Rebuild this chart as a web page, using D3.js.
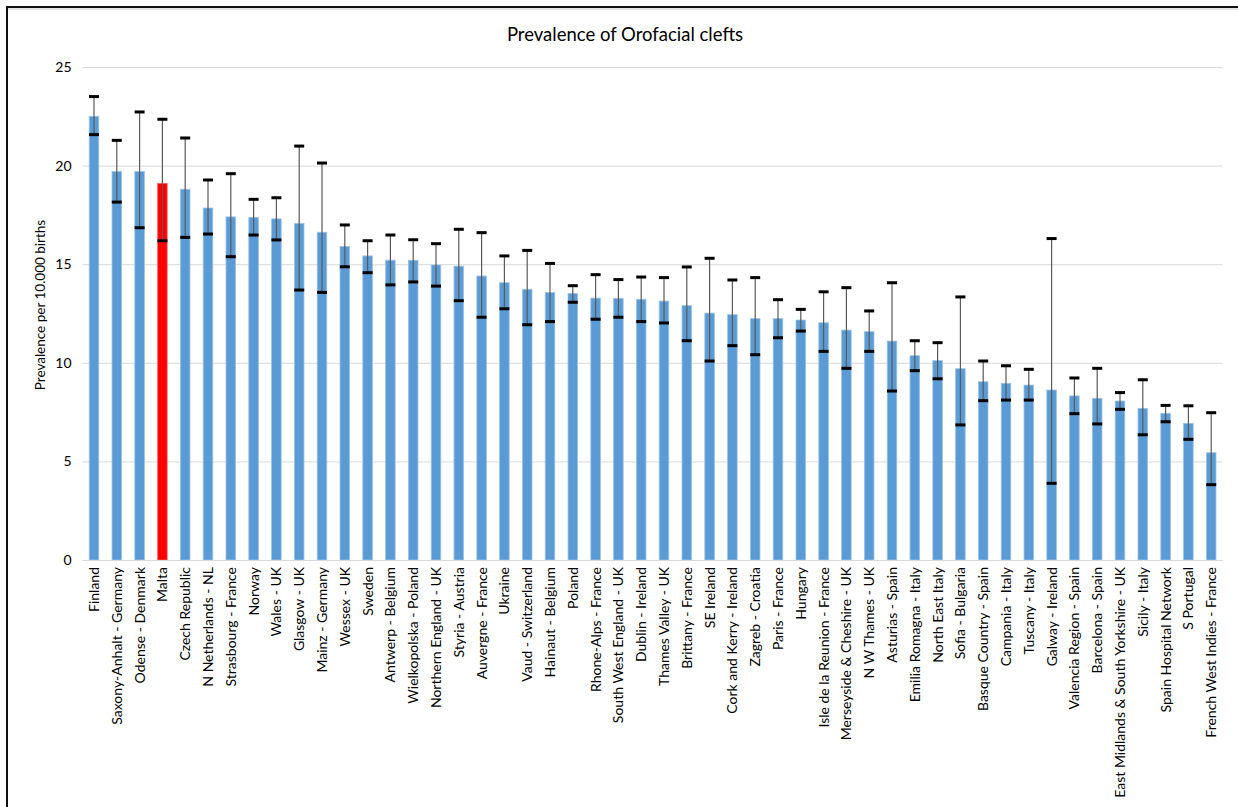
<!DOCTYPE html>
<html>
<head>
<meta charset="utf-8">
<script src="https://cdn.jsdelivr.net/npm/d3@7"></script>
<style>
  html, body { margin: 0; padding: 0; background: #fff; }
  svg { display: block; }
  text { font-family: Lato, "Open Sans", sans-serif; fill: #000; }
</style>
</head>
<body>
<svg id="chart" width="1238" height="807"></svg>
<script>
// Registries, in descending order of prevalence
const categories = [
  "Finland", "Saxony-Anhalt - Germany", "Odense - Denmark", "Malta", "Czech Republic",
  "N Netherlands - NL", "Strasbourg - France", "Norway", "Wales - UK", "Glasgow - UK",
  "Mainz - Germany", "Wessex - UK", "Sweden", "Antwerp - Belgium", "Wielkopolska - Poland",
  "Northern England - UK", "Styria - Austria", "Auvergne - France", "Ukraine", "Vaud - Switzerland",
  "Hainaut - Belgium", "Poland", "Rhone-Alps - France", "South West England - UK", "Dublin - Ireland",
  "Thames Valley - UK", "Brittany - France", "SE Ireland", "Cork and Kerry - Ireland", "Zagreb - Croatia",
  "Paris - France", "Hungary", "Isle de la Reunion - France", "Merseyside & Cheshire - UK", "N W Thames - UK",
  "Asturias - Spain", "Emilia Romagna - Italy", "North East Italy", "Sofia - Bulgaria", "Basque Country - Spain",
  "Campania - Italy", "Tuscany - Italy", "Galway - Ireland", "Valencia Region - Spain", "Barcelona - Spain",
  "East Midlands & South Yorkshire - UK", "Sicily - Italy", "Spain Hospital Network", "S Portugal", "French West Indies - France"
];

// Prevalence per 10,000 births
const prevalence = [
  22.5, 19.7, 19.7, 19.1, 18.8,
  17.85, 17.4, 17.38, 17.3, 17.07,
  16.62, 15.9, 15.42, 15.2, 15.2,
  14.96, 14.9, 14.4, 14.06, 13.73,
  13.56, 13.52, 13.28, 13.27, 13.22,
  13.13, 12.9, 12.52, 12.44, 12.24,
  12.24, 12.17, 12.03, 11.66, 11.58,
  11.1, 10.36, 10.11, 9.7, 9.04,
  8.96, 8.87, 8.62, 8.32, 8.2,
  8.06, 7.69, 7.44, 6.93, 5.44
];

// 95% confidence interval bounds
const lowerCI = [
  21.57, 18.15, 16.85, 16.19, 16.36,
  16.53, 15.38, 16.48, 16.23, 13.69,
  13.57, 14.87, 14.57, 13.95, 14.1,
  13.89, 13.15, 12.31, 12.74, 11.93,
  12.09, 13.07, 12.21, 12.31, 12.09,
  12.02, 11.12, 10.09, 10.87, 10.41,
  11.27, 11.61, 10.58, 9.72, 10.58,
  8.57, 9.6, 9.19, 6.85, 8.08,
  8.11, 8.11, 3.89, 7.42, 6.9,
  7.64, 6.35, 7.01, 6.12, 3.82
];
const upperCI = [
  23.5, 21.28, 22.72, 22.35, 21.4,
  19.27, 19.59, 18.29, 18.37, 20.99,
  20.13, 16.99, 16.19, 16.48, 16.24,
  16.04, 16.77, 16.6, 15.42, 15.7,
  15.04, 13.91, 14.47, 14.22, 14.35,
  14.32, 14.86, 15.3, 14.2, 14.32,
  13.2, 12.71, 13.6, 13.81, 12.63,
  14.06, 11.12, 11.02, 13.34, 10.09,
  9.85, 9.67, 16.3, 9.23, 9.72,
  8.49, 9.14, 7.84, 7.82, 7.47
];

const yTicks = [0, 5, 10, 15, 20, 25];
const highlighted = "Malta";

const rows = categories.map((name, i) => ({
  name, value: prevalence[i], lo: lowerCI[i], hi: upperCI[i]
}));

const svg = d3.select("#chart");
const W = 1238, H = 807;
const plot = { left: 82.6, right: 1222.6, top: 67, bottom: 560 };

// Frame around the chart
svg.append("rect").attr("x", 0).attr("y", 0).attr("width", W).attr("height", H).attr("fill", "#fff");
svg.append("line").attr("x1", 7).attr("x2", W).attr("y1", 7).attr("y2", 7)
  .attr("stroke", "#111").attr("stroke-width", 2);
svg.append("line").attr("x1", 7).attr("x2", W).attr("y1", 9).attr("y2", 9)
  .attr("stroke", "#c8c8c8").attr("stroke-width", 1);
svg.append("line").attr("x1", 7).attr("x2", 7).attr("y1", 6).attr("y2", H)
  .attr("stroke", "#111").attr("stroke-width", 2);

const x = d3.scaleBand()
  .domain(categories)
  .range([plot.left, plot.right])
  .paddingInner(0.58)
  .paddingOuter(0.29);

const y = d3.scaleLinear().domain([0, 25]).range([plot.bottom, plot.top]);

// Horizontal gridlines and y tick labels
const yAxis = d3.axisLeft(y)
  .tickValues(yTicks)
  .tickSize(-(plot.right - plot.left))
  .tickPadding(11)
  .tickFormat(d3.format("d"));
const gy = svg.append("g").attr("transform", `translate(${plot.left},0)`).call(yAxis);
gy.select(".domain").remove();
gy.selectAll(".tick line").attr("stroke", "#d9d9d9").attr("stroke-width", 1);
gy.selectAll(".tick text").attr("font-size", 14).attr("fill", "#222");

// Bars
svg.append("g").selectAll("rect")
  .data(rows)
  .join("rect")
  .attr("x", d => x(d.name))
  .attr("y", d => y(d.value))
  .attr("width", x.bandwidth())
  .attr("height", d => y(0) - y(d.value))
  .attr("fill", d => d.name === highlighted ? "#ff0000" : "#5b9bd5")
  .attr("stroke", d => d.name === highlighted ? "#ff6b6b" : "#9dc3e6")
  .attr("stroke-width", 0.8);

// Error bars
const eb = svg.append("g").selectAll("g")
  .data(rows)
  .join("g")
  .attr("transform", d => `translate(${x(d.name) + x.bandwidth() / 2},0)`);
eb.append("line")
  .attr("y1", d => y(d.hi)).attr("y2", d => y(d.lo))
  .attr("stroke", "#5a5a5a").attr("stroke-width", 1.2);
eb.append("rect")
  .attr("x", -5).attr("width", 10).attr("height", 3)
  .attr("y", d => y(d.hi) - 1.5).attr("fill", "#000");
eb.append("rect")
  .attr("x", -5).attr("width", 10).attr("height", 3)
  .attr("y", d => y(d.lo) - 1.5).attr("fill", "#000");

// X axis with rotated category labels
const xAxis = d3.axisBottom(x).tickSize(0).tickPadding(7);
const gx = svg.append("g").attr("transform", `translate(0,${plot.bottom})`).call(xAxis);
gx.select(".domain").attr("stroke", "#d9d9d9").attr("d", `M${plot.left},0.5H${plot.right}`);
gx.selectAll(".tick text")
  .attr("font-size", 14)
  .attr("fill", "#000")
  .attr("text-anchor", "end")
  .attr("dy", "0.35em")
  .attr("transform", "rotate(-90)")
  .attr("x", -7)
  .attr("y", 0);

// Title
svg.append("text")
  .attr("x", 625).attr("y", 41)
  .attr("text-anchor", "middle")
  .attr("font-size", 18.5)
  .text("Prevalence of Orofacial clefts");

// Y axis title
svg.append("text")
  .attr("transform", `translate(45,305) rotate(-90)`)
  .attr("text-anchor", "middle")
  .attr("font-size", 13.5)
  .text("Prevalence per 10.000 births");
</script>
</body>
</html>
